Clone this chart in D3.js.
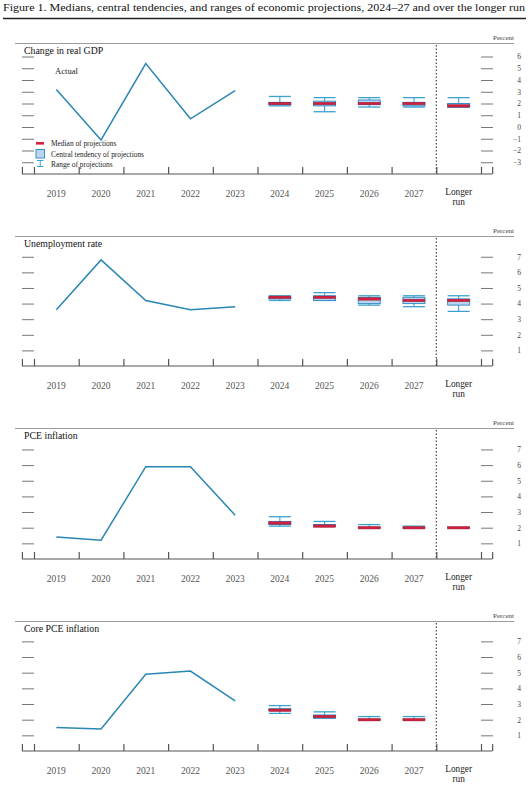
<!DOCTYPE html>
<html><head><meta charset="utf-8">
<script src="https://cdn.jsdelivr.net/npm/d3@7"></script>
<style>
body{margin:0;background:#fff;}
svg text{font-family:"Liberation Serif","DejaVu Serif",serif;}
</style></head>
<body><svg id="c" width="530" height="789"></svg>
<script>
// ---------- data ----------
const categories = ["2019","2020","2021","2022","2023","2024","2025","2026","2027","Longer run"];
const actualYears = ["2019","2020","2021","2022","2023"];
const projCategories = ["2024","2025","2026","2027","Longer run"];

const gdpActual = [3.2, -1.1, 5.4, 0.7, 3.1];
const gdpMedian = [2.0, 2.0, 2.0, 2.0, 1.8];
const gdpCtLow = [1.9, 1.8, 1.9, 1.8, 1.7];
const gdpCtHigh = [2.1, 2.2, 2.3, 2.1, 2.0];
const gdpRangeLow = [1.8, 1.3, 1.7, 1.7, 1.7];
const gdpRangeHigh = [2.6, 2.5, 2.5, 2.5, 2.5];
const gdpTicks = [-3, -2, -1, 0, 1, 2, 3, 4, 5, 6];

const unempActual = [3.6, 6.8, 4.2, 3.6, 3.8];
const unempMedian = [4.4, 4.4, 4.3, 4.2, 4.2];
const unempCtLow = [4.3, 4.2, 4.0, 4.0, 3.9];
const unempCtHigh = [4.4, 4.5, 4.4, 4.4, 4.3];
const unempRangeLow = [4.2, 4.2, 3.9, 3.8, 3.5];
const unempRangeHigh = [4.5, 4.7, 4.5, 4.5, 4.5];

const pceActual = [1.4, 1.2, 5.9, 5.9, 2.8];
const pceMedian = [2.3, 2.1, 2.0, 2.0, 2.0];
const pceCtLow = [2.2, 2.1, 2.0, 2.0, 2.0];
const pceCtHigh = [2.4, 2.2, 2.0, 2.0, 2.0];
const pceRangeLow = [2.1, 2.1, 2.0, 2.0, 2.0];
const pceRangeHigh = [2.7, 2.4, 2.2, 2.1, 2.0];

const coreActual = [1.5, 1.4, 4.9, 5.1, 3.2];
const coreMedian = [2.6, 2.2, 2.0, 2.0, null];
const coreCtLow = [2.6, 2.1, 2.0, 2.0, null];
const coreCtHigh = [2.7, 2.3, 2.0, 2.0, null];
const coreRangeLow = [2.4, 2.1, 2.0, 2.0, null];
const coreRangeHigh = [2.9, 2.5, 2.2, 2.2, null];

const pctTicks = [1, 2, 3, 4, 5, 6, 7];

const figureTitle = "Figure 1. Medians, central tendencies, and ranges of economic projections, 2024\u201327 and over the longer run";
const legendLabels = ["Median of projections", "Central tendency of projections", "Range of projections"];

// ---------- layout ----------
const panels = [
  {title:"Change in real GDP", actual:gdpActual, median:gdpMedian, ctLow:gdpCtLow, ctHigh:gdpCtHigh, rLow:gdpRangeLow, rHigh:gdpRangeHigh, ticks:gdpTicks, top:43, bottom:174, domain:[-4, 7.15], legend:true},
  {title:"Unemployment rate", actual:unempActual, median:unempMedian, ctLow:unempCtLow, ctHigh:unempCtHigh, rLow:unempRangeLow, rHigh:unempRangeHigh, ticks:pctTicks, top:236, bottom:366, domain:[0, 8.33]},
  {title:"PCE inflation", actual:pceActual, median:pceMedian, ctLow:pceCtLow, ctHigh:pceCtHigh, rLow:pceRangeLow, rHigh:pceRangeHigh, ticks:pctTicks, top:428, bottom:559, domain:[0, 8.37]},
  {title:"Core PCE inflation", actual:coreActual, median:coreMedian, ctLow:coreCtLow, ctHigh:coreCtHigh, rLow:coreRangeLow, rHigh:coreRangeHigh, ticks:pctTicks, top:621, bottom:751, domain:[0, 8.3]}
];

const COL = {line:"#2a86b3", box:"#b9d5f0", boxStroke:"#3b8fc6", range:"#3aa2cf", median:"#d11f3c", medianStroke:"#8a2444", axis:"#555", tick:"#777", text:"#444"};

const svg = d3.select("#c");

// title
svg.append("text").attr("x", 3).attr("y", 11).attr("font-size", 11).attr("fill", "#111")
  .attr("textLength", 522).attr("lengthAdjust", "spacingAndGlyphs").text(figureTitle);
svg.append("line").attr("x1", 3).attr("x2", 526).attr("y1", 18.5).attr("y2", 18.5)
  .attr("stroke", "#222").attr("stroke-width", 1.5);

const x = d3.scaleBand().domain(categories).range([34, 481]).padding(0);
const bw = x.bandwidth();
const xb = d3.scaleLinear().domain([0, categories.length]).range([34, 481]);
const glyphW = 22;

panels.forEach(p => {
  const g = svg.append("g");
  const y = d3.scaleLinear().domain(p.domain).range([p.bottom, p.top]);

  // top rule
  g.append("line").attr("x1", 15).attr("x2", 514).attr("y1", p.top + 0.5).attr("y2", p.top + 0.5)
    .attr("stroke", "#9a9a9a").attr("stroke-width", 1);
  g.append("text").attr("x", 514).attr("y", p.top - 3).attr("text-anchor", "end")
    .attr("font-size", 7).attr("fill", COL.text).text("Percent");
  g.append("text").attr("x", 24).attr("y", p.top + 11).attr("font-size", 9.8)
    .attr("fill", "#111").text(p.title);

  // left ticks
  const la = g.append("g").attr("transform", "translate(34,0)")
    .call(d3.axisLeft(y).tickValues(p.ticks).tickSize(12).tickFormat(""));
  la.select(".domain").remove();
  la.selectAll("line").attr("stroke", COL.tick);

  // right ticks + labels
  const ra = g.append("g").attr("transform", "translate(481,0)")
    .call(d3.axisRight(y).tickValues(p.ticks).tickSize(12).tickFormat(d3.format("d")));
  ra.select(".domain").remove();
  ra.selectAll("line").attr("stroke", COL.tick);
  ra.selectAll("text").attr("x", 40).attr("text-anchor", "end")
    .attr("font-family", "Liberation Serif, DejaVu Serif, serif").attr("font-size", 7.5).attr("fill", COL.text);

  // bottom axis with band-boundary ticks
  const ba = g.append("g").attr("transform", `translate(0,${p.bottom})`)
    .call(d3.axisTop(xb).tickValues([-0.27].concat(d3.range(0, categories.length + 1), [10.25])).tickSize(7).tickFormat(""));
  ba.select(".domain").remove();
  ba.selectAll("line").attr("stroke", COL.axis).attr("stroke-width", 1.2);
  g.append("line").attr("x1", xb(-0.27)).attr("x2", xb(10.25)).attr("y1", p.bottom).attr("y2", p.bottom)
    .attr("stroke", COL.axis).attr("stroke-width", 1.2);

  // category labels
  categories.forEach(c => {
    const cx = x(c) + bw / 2;
    if (c === "Longer run") {
      g.append("text").attr("x", cx).attr("y", p.bottom + 21).attr("text-anchor", "middle")
        .attr("font-size", 9.3).attr("fill", "#222").text("Longer");
      g.append("text").attr("x", cx).attr("y", p.bottom + 30.5).attr("text-anchor", "middle")
        .attr("font-size", 9.3).attr("fill", "#222").text("run");
    } else {
      g.append("text").attr("x", cx).attr("y", p.bottom + 23).attr("text-anchor", "middle")
        .attr("font-size", 9.5).attr("fill", "#555").text(c);
    }
  });

  // dotted separator
  g.append("line").attr("x1", x("Longer run")).attr("x2", x("Longer run"))
    .attr("y1", p.top + 2).attr("y2", p.bottom)
    .attr("stroke", "#444").attr("stroke-width", 1.2).attr("stroke-dasharray", "1.5,2");

  // actual line
  const line = d3.line().x((d, i) => x(actualYears[i]) + bw / 2).y(d => y(d));
  g.append("path").datum(p.actual).attr("d", line).attr("fill", "none")
    .attr("stroke", COL.line).attr("stroke-width", 1.5);

  // projections
  projCategories.forEach((c, i) => {
    if (p.median[i] == null) return;
    const cx = x(c) + bw / 2;
    const x0 = cx - glyphW / 2;
    // range whisker
    g.append("line").attr("x1", cx).attr("x2", cx).attr("y1", y(p.rLow[i])).attr("y2", y(p.rHigh[i]))
      .attr("stroke", COL.range).attr("stroke-width", 1.1);
    [p.rLow[i], p.rHigh[i]].forEach(v => {
      g.append("line").attr("x1", x0).attr("x2", x0 + glyphW).attr("y1", y(v)).attr("y2", y(v))
        .attr("stroke", COL.range).attr("stroke-width", 1.3);
    });
    // central tendency box
    const yTop = y(p.ctHigh[i]), yBot = y(p.ctLow[i]);
    g.append("rect").attr("x", x0).attr("y", yTop).attr("width", glyphW).attr("height", Math.max(yBot - yTop, 0.01))
      .attr("fill", COL.box).attr("stroke", COL.boxStroke).attr("stroke-width", 1);
    // median
    g.append("rect").attr("x", x0).attr("y", y(p.median[i]) - 1.3).attr("width", glyphW).attr("height", 2.6)
      .attr("fill", COL.median).attr("stroke", COL.medianStroke).attr("stroke-width", 0.4);
  });

  if (p.legend) {
    g.append("text").attr("x", 55).attr("y", 74).attr("font-size", 8.6).attr("fill", "#222").text("Actual");
    const lx = 36, tx = 51;
    g.append("rect").attr("x", lx).attr("y", 142).attr("width", 8).attr("height", 2.6).attr("fill", COL.median);
    g.append("rect").attr("x", lx).attr("y", 149.5).attr("width", 8.5).attr("height", 8.5)
      .attr("fill", COL.box).attr("stroke", COL.boxStroke).attr("stroke-width", 1);
    g.append("line").attr("x1", lx + 4.25).attr("x2", lx + 4.25).attr("y1", 160.5).attr("y2", 166.5).attr("stroke", COL.range).attr("stroke-width", 1);
    [160.5, 166.5].forEach(yy => g.append("line").attr("x1", lx + 1).attr("x2", lx + 7.5).attr("y1", yy).attr("y2", yy).attr("stroke", COL.range).attr("stroke-width", 1));
    [145.5, 156.5, 166.5].forEach((yy, i) => {
      g.append("text").attr("x", tx).attr("y", yy).attr("font-size", 7.4).attr("fill", "#222").text(legendLabels[i]);
    });
  }
});
</script></body></html>
